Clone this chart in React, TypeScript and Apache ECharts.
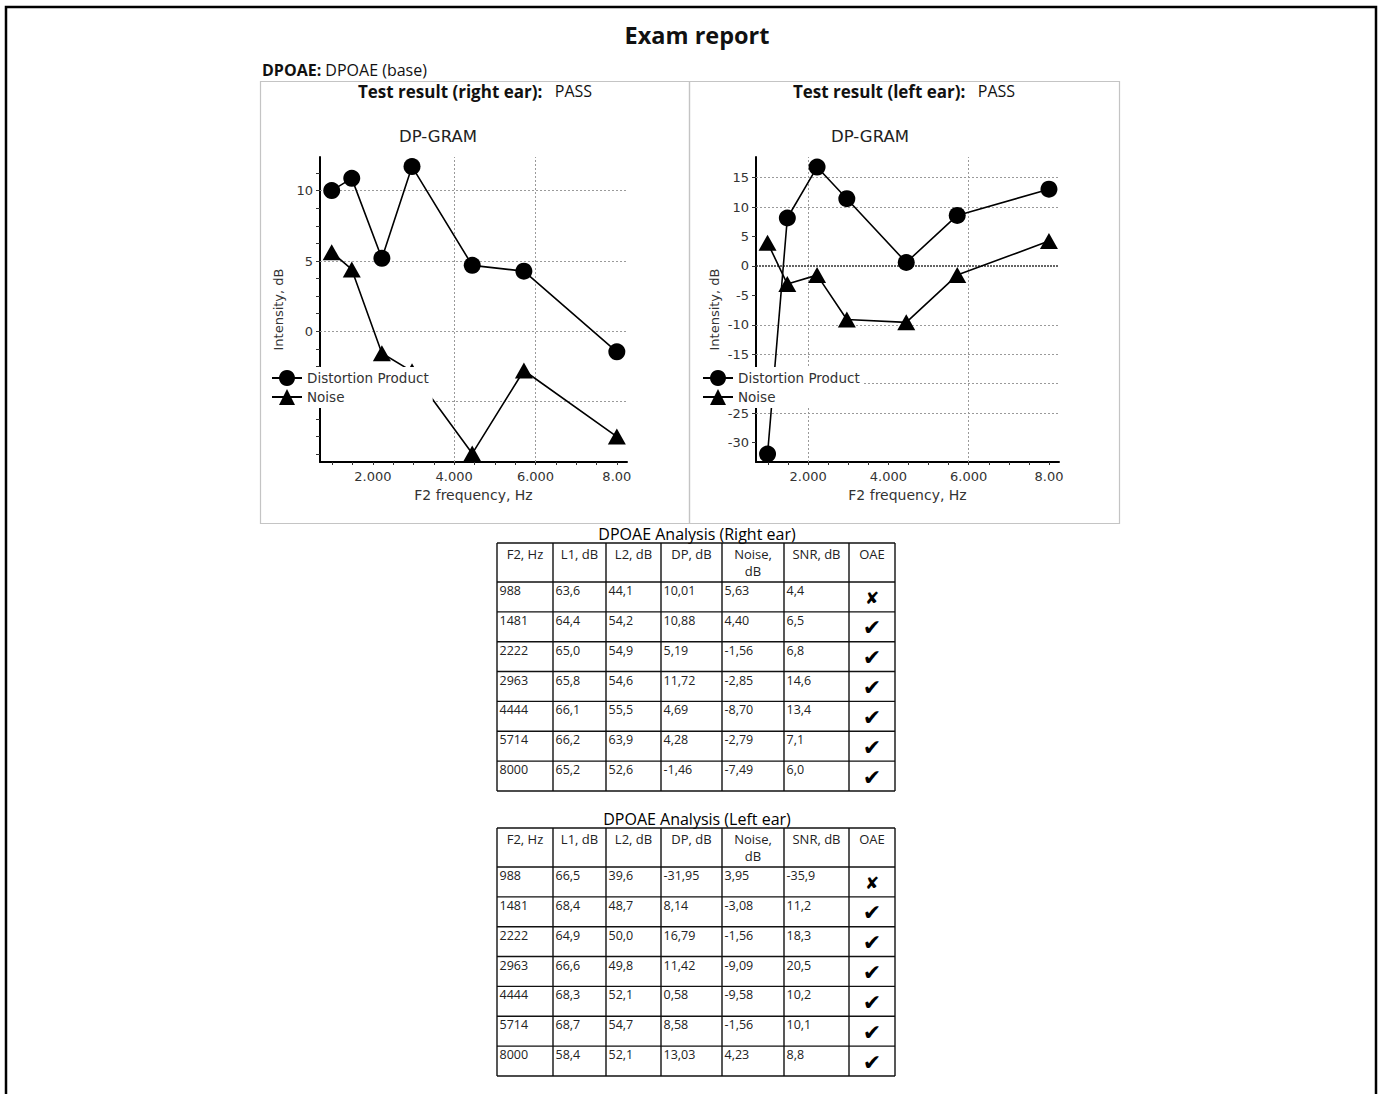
import React, { useEffect, useRef } from 'react';
import * as echarts from 'echarts';

// ---------- data ----------
const freqs = [988, 1481, 2222, 2963, 4444, 5714, 8000];

const rightDP = [10.01, 10.88, 5.19, 11.72, 4.69, 4.28, -1.46];
const rightNoise = [5.63, 4.4, -1.56, -2.85, -8.7, -2.79, -7.49];
const rightL1 = ['63,6', '64,4', '65,0', '65,8', '66,1', '66,2', '65,2'];
const rightL2 = ['44,1', '54,2', '54,9', '54,6', '55,5', '63,9', '52,6'];
const rightSNR = ['4,4', '6,5', '6,8', '14,6', '13,4', '7,1', '6,0'];
const rightOAE = [false, true, true, true, true, true, true];

const leftDP = [-31.95, 8.14, 16.79, 11.42, 0.58, 8.58, 13.03];
const leftNoise = [3.95, -3.08, -1.56, -9.09, -9.58, -1.56, 4.23];
const leftL1 = ['66,5', '68,4', '64,9', '66,6', '68,3', '68,7', '58,4'];
const leftL2 = ['39,6', '48,7', '50,0', '49,8', '52,1', '54,7', '52,1'];
const leftSNR = ['-35,9', '11,2', '18,3', '20,5', '10,2', '10,1', '8,8'];
const leftOAE = [false, true, true, true, true, true, true];

const tableHeaders = ['F2, Hz', 'L1, dB', 'L2, dB', 'DP, dB', 'Noise,\ndB', 'SNR, dB', 'OAE'];

const xTickValues = [1000, 1500, 2000, 2500, 3000, 3500, 4000, 4500, 5000, 5500, 6000, 6500, 7000, 7500, 8000];
const xLabelValues = [2000, 4000, 6000, 8000];
const xLabelTexts = ['2.000', '4.000', '6.000', '8.00'];

// right-ear chart: the -5 label is hidden behind the legend in the reference
const rightYLabels = [0, 5, 10];
const rightYTicks = [-8.75, -7.5, -6.25, -5, -3.75, -2.5, -1.25, 0, 1.25, 2.5, 3.75, 5, 6.25, 7.5, 8.75, 10, 11.25];
const rightHGrid = [10, 5, 0, -5];
const rightVGrid = [4000, 6000];

// left-ear chart: the -20 label is hidden behind the legend in the reference
const leftYLabels = [-30, -25, -15, -10, -5, 0, 5, 10, 15];
const leftYTicks = [-30, -25, -20, -15, -10, -5, 0, 5, 10, 15];
const leftHGrid = [15, 10, -10, -15, -20, -25];
const leftZeroLine = [0];
const leftVGrid = [2000, 6000];

// ---------- helpers ----------
const CHART_FONT = 'DejaVu Sans';
const HEAD_FONT = 'Open Sans';
const fmt = (v: number) => v.toFixed(2).replace('.', ',');

const COLS = [497, 553, 606, 661, 722, 784, 849, 895];

function tableGraphics(top: number, title: string, rows: string[][], oae: boolean[]) {
  const els: any[] = [];
  const headerH = 39;
  const rowH = 29.85;
  const bottom = top + headerH + rowH * rows.length;
  els.push({
    type: 'text', x: 697, y: top - 9,
    style: { text: title, fontFamily: HEAD_FONT, fontSize: 16, fill: '#000', align: 'center', verticalAlign: 'middle' },
  });
  const ys = [top, top + headerH];
  rows.forEach((_, i) => ys.push(top + headerH + rowH * (i + 1)));
  ys.forEach((y) =>
    els.push({ type: 'line', shape: { x1: COLS[0], y1: y, x2: COLS[COLS.length - 1], y2: y }, style: { stroke: '#111', lineWidth: 1.4 } })
  );
  COLS.forEach((x) =>
    els.push({ type: 'line', shape: { x1: x, y1: top, x2: x, y2: bottom }, style: { stroke: '#111', lineWidth: 1.4 } })
  );
  tableHeaders.forEach((h, c) =>
    els.push({
      type: 'text', x: (COLS[c] + COLS[c + 1]) / 2, y: top + 2,
      style: { text: h, fontFamily: HEAD_FONT, fontSize: 13, lineHeight: 17, fill: '#222', align: 'center', verticalAlign: 'top' },
    })
  );
  rows.forEach((r, i) => {
    const y0 = top + headerH + rowH * i;
    r.forEach((cell, c) =>
      els.push({
        type: 'text', x: COLS[c] + 2.5, y: y0 + 2,
        style: { text: cell, fontFamily: HEAD_FONT, fontSize: 12.5, fill: '#222', align: 'left', verticalAlign: 'top' },
      })
    );
    els.push({
      type: 'text', x: (COLS[6] + COLS[7]) / 2, y: y0 + rowH / 2 + 1,
      style: {
        text: oae[i] ? '\u2714' : '\u2718', fontFamily: 'DejaVu Sans', fontSize: oae[i] ? 22 : 17,
        fill: '#000', align: 'center', verticalAlign: 'middle',
      },
    });
  });
  return els;
}

function makeRows(L1: string[], L2: string[], dp: number[], noise: number[], snr: string[]) {
  return freqs.map((f, i) => [String(f), L1[i], L2[i], fmt(dp[i]), fmt(noise[i]), snr[i]]);
}

const gridLineStyle = { color: '#9a9a9a', width: 1, type: [2, 2] as any };

function markLines(h: number[], v: number[], extraZero?: number[]) {
  const data: any[] = [];
  h.forEach((y) => data.push({ yAxis: y, lineStyle: gridLineStyle }));
  v.forEach((x) => data.push({ xAxis: x, lineStyle: gridLineStyle }));
  (extraZero || []).forEach((y) => data.push({ yAxis: y, lineStyle: { color: '#333', width: 1.6, type: [2, 1] } }));
  return { silent: true, symbol: 'none', z: 1, label: { show: false }, animation: false, data };
}

function xAxisCfg(gridIndex: number) {
  return {
    type: 'value', gridIndex, min: 700, max: 8250,
    name: 'F2 frequency, Hz', nameLocation: 'middle', nameGap: 26,
    nameTextStyle: { fontFamily: CHART_FONT, fontSize: 14, color: '#333' },
    axisLine: { onZero: false, lineStyle: { color: '#000', width: 2 } },
    axisTick: { show: true, customValues: xTickValues, length: 3, lineStyle: { color: '#333' } },
    axisLabel: {
      customValues: xLabelValues, margin: 8, fontFamily: CHART_FONT, fontSize: 13, color: '#333',
      formatter: (v: number) => { const k = xLabelValues.indexOf(v); return k >= 0 ? xLabelTexts[k] : ''; },
    },
    splitLine: { show: false },
  };
}

function yAxisCfg(gridIndex: number, min: number, max: number, labels: number[], ticks: number[]) {
  return {
    type: 'value', gridIndex, min, max,
    name: 'Intensity, dB', nameLocation: 'middle', nameGap: 35,
    nameTextStyle: { fontFamily: CHART_FONT, fontSize: 13, color: '#333' },
    axisLine: { show: true, onZero: false, lineStyle: { color: '#000', width: 2 } },
    axisTick: { show: true, customValues: ticks, length: 4, lineStyle: { color: '#333' } },
    axisLabel: { customValues: labels, margin: 7, fontFamily: CHART_FONT, fontSize: 13, color: '#333' },
    splitLine: { show: false },
  };
}

function lineSeries(name: string, xi: number, ys: number[], symbol: string, size: any, ml?: any) {
  return {
    type: 'line', name, xAxisIndex: xi, yAxisIndex: xi,
    data: freqs.map((f, i) => [f, ys[i]]),
    symbol, symbolSize: size, showAllSymbol: true,
    itemStyle: { color: '#000' },
    lineStyle: { color: '#000', width: 1.6 },
    z: 3,
    markLine: ml,
  };
}

function legendCfg(left: number) {
  return {
    left, top: 367, orient: 'vertical', backgroundColor: '#fff', padding: [3, 4, 3, 3],
    itemGap: 3, itemWidth: 30, itemHeight: 20, selectedMode: false, z: 10,
    textStyle: { fontFamily: CHART_FONT, fontSize: 13.5, color: '#333' },
    data: ['Distortion Product', 'Noise'],
  };
}

export default function App() {
  const ref = useRef<HTMLDivElement>(null);
  useEffect(() => {
    if (!ref.current) return;
    const chart = echarts.init(ref.current, null, { renderer: 'svg' });
    const boldRich = (size: number) => ({ b: { fontWeight: 'bold', fontFamily: HEAD_FONT, fontSize: size, fill: '#111' } });
    const graphics: any[] = [
      { type: 'rect', shape: { x: 6, y: 7, width: 1370, height: 1110 }, style: { fill: 'none', stroke: '#000', lineWidth: 2.5 }, z: -1 },
      { type: 'text', x: 697, y: 35, style: { text: 'Exam report', fontFamily: HEAD_FONT, fontWeight: 'bold', fontSize: 23.5, fill: '#111', align: 'center', verticalAlign: 'middle' } },
      {
        type: 'text', x: 262, y: 70,
        style: { text: '{b|DPOAE:} DPOAE (base)', rich: boldRich(16), fontFamily: HEAD_FONT, fontSize: 16, fill: '#111', align: 'left', verticalAlign: 'middle' },
      },
      { type: 'rect', shape: { x: 260.5, y: 81.5, width: 429, height: 442 }, style: { fill: 'none', stroke: '#c4c4c4', lineWidth: 1.2 }, z: -1 },
      { type: 'rect', shape: { x: 689.5, y: 81.5, width: 430, height: 442 }, style: { fill: 'none', stroke: '#c4c4c4', lineWidth: 1.2 }, z: -1 },
      {
        type: 'text', x: 475, y: 91,
        style: { text: '{b|Test result (right ear):}   PASS', rich: boldRich(17), fontFamily: HEAD_FONT, fontSize: 16, fill: '#111', align: 'center', verticalAlign: 'middle' },
      },
      {
        type: 'text', x: 904, y: 91,
        style: { text: '{b|Test result (left ear):}   PASS', rich: boldRich(17), fontFamily: HEAD_FONT, fontSize: 16, fill: '#111', align: 'center', verticalAlign: 'middle' },
      },
      { type: 'text', x: 438, y: 136, style: { text: 'DP-GRAM', fontFamily: CHART_FONT, fontSize: 16.5, fill: '#222', align: 'center', verticalAlign: 'middle' } },
      { type: 'text', x: 870, y: 136, style: { text: 'DP-GRAM', fontFamily: CHART_FONT, fontSize: 16.5, fill: '#222', align: 'center', verticalAlign: 'middle' } },
      ...tableGraphics(543, 'DPOAE Analysis (Right ear)', makeRows(rightL1, rightL2, rightDP, rightNoise, rightSNR), rightOAE),
      ...tableGraphics(828, 'DPOAE Analysis (Left ear)', makeRows(leftL1, leftL2, leftDP, leftNoise, leftSNR), leftOAE),
    ];

    chart.setOption({
      animation: false,
      backgroundColor: '#fff',
      grid: [
        { left: 320, top: 157, width: 307, height: 305 },
        { left: 756, top: 157, width: 303, height: 305 },
      ],
      xAxis: [xAxisCfg(0), xAxisCfg(1)],
      yAxis: [
        yAxisCfg(0, -9.3, 12.4, rightYLabels, rightYTicks),
        yAxisCfg(1, -33.3, 18.5, leftYLabels, leftYTicks),
      ],
      legend: [legendCfg(268), legendCfg(699)],
      series: [
        lineSeries('Distortion Product', 0, rightDP, 'circle', 17, markLines(rightHGrid, rightVGrid)),
        lineSeries('Noise', 0, rightNoise, 'triangle', [18, 16]),
        lineSeries('Distortion Product', 1, leftDP, 'circle', 17, markLines(leftHGrid, leftVGrid, leftZeroLine)),
        lineSeries('Noise', 1, leftNoise, 'triangle', [18, 16]),
      ],
      graphic: graphics,
    });
    return () => chart.dispose();
  }, []);
  return <div ref={ref} style={{ position: 'fixed', left: 0, top: 0, width: 1381, height: 1094 }} />;
}
